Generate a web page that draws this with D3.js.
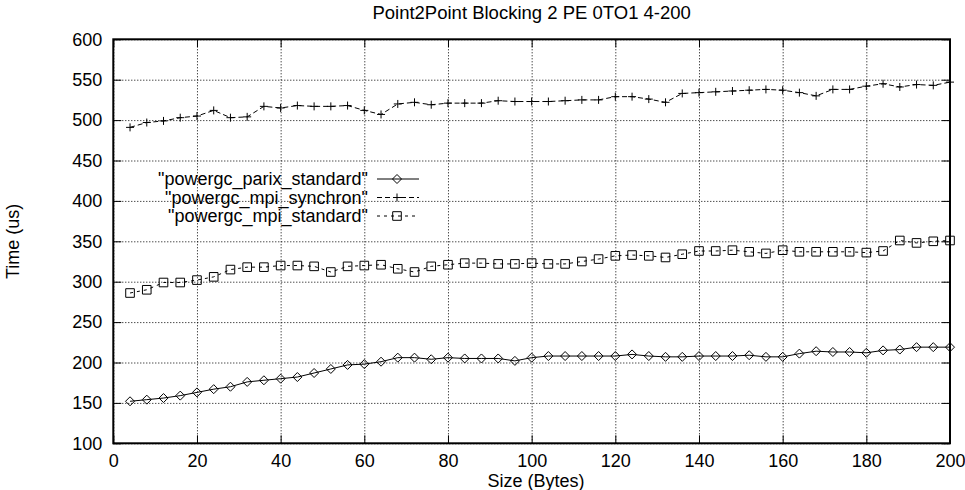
<!DOCTYPE html>
<html>
<head>
<meta charset="utf-8">
<script src="https://cdn.jsdelivr.net/npm/d3@7"></script>
<style>
  body { margin: 0; background: #fff; }
  svg { display: block; font-family: "Liberation Sans", Arial, Helvetica, sans-serif; }
</style>
</head>
<body>
<div id="chart"></div>
<script>
// message sizes (bytes)
const sizes = [4, 8, 12, 16, 20, 24, 28, 32, 36, 40, 44, 48, 52, 56, 60, 64, 68, 72, 76, 80,
               84, 88, 92, 96, 100, 104, 108, 112, 116, 120, 124, 128, 132, 136, 140, 144, 148, 152, 156, 160,
               164, 168, 172, 176, 180, 184, 188, 192, 196, 200];

const parixStandard = [152, 154, 156, 159, 163, 167, 170, 176, 178, 180, 182, 187, 192, 197, 198, 201, 206, 206, 204, 206,
                       205, 205, 205, 202, 206, 208, 208, 208, 208, 208, 210, 208, 207, 207, 208, 208, 208, 209, 207, 207,
                       211, 214, 213, 213, 212, 215, 216, 219, 219, 219];

const mpiSynchron = [491, 497, 499, 503, 505, 512, 503, 504, 517, 515, 518, 517, 517, 518, 512, 507, 520, 522, 519, 521,
                     521, 521, 524, 523, 523, 523, 524, 525, 525, 529, 529, 526, 522, 533, 534, 535, 536, 537, 538, 537,
                     534, 530, 538, 538, 542, 545, 541, 544, 543, 547];

const mpiStandard = [286, 290, 299, 299, 302, 306, 315, 318, 318, 320, 320, 319, 312, 319, 320, 321, 316, 312, 319, 321,
                     323, 323, 322, 322, 323, 322, 322, 325, 328, 332, 333, 332, 330, 334, 338, 338, 339, 337, 335, 339,
                     337, 337, 337, 337, 336, 338, 351, 348, 350, 351];

const seriesNames = ['"powergc_parix_standard"', '"powergc_mpi_synchron"', '"powergc_mpi_standard"'];
const xTicks = d3.range(0, 201, 20);
const yTicks = d3.range(100, 601, 50);

const width = 965, height = 490;
const margin = {top: 39.3, right: 15, bottom: 46.7, left: 113.3};
const w = width - margin.left - margin.right;
const h = height - margin.top - margin.bottom;

const svg = d3.select("#chart").append("svg")
    .attr("width", width)
    .attr("height", height);

const g = svg.append("g").attr("transform", `translate(${margin.left},${margin.top})`);

const x = d3.scaleLinear().domain([0, 200]).range([0, w]);
const y = d3.scaleLinear().domain([100, 600]).range([h, 0]);

// dotted grid
g.append("g")
    .attr("transform", `translate(0,${h})`)
    .call(d3.axisBottom(x).tickValues(xTicks).tickSize(-h).tickFormat(""))
    .call(a => a.select(".domain").remove())
    .selectAll("line").attr("stroke", "#000").attr("stroke-width", 1).attr("stroke-dasharray", "1,2");
g.append("g")
    .call(d3.axisLeft(y).tickValues(yTicks).tickSize(-w).tickFormat(""))
    .call(a => a.select(".domain").remove())
    .selectAll("line").attr("stroke", "#000").attr("stroke-width", 1).attr("stroke-dasharray", "1,2");

// inward ticks on all four sides, labels on bottom/left
function styleAxis(sel) {
    sel.select(".domain").remove();
    sel.selectAll("line").attr("stroke", "#000").attr("stroke-width", 1);
    sel.selectAll("text").attr("fill", "#000").attr("font-size", "18px")
        .attr("font-family", '"Liberation Sans", Arial, sans-serif');
}
g.append("g").attr("transform", `translate(0,${h})`)
    .call(d3.axisBottom(x).tickValues(xTicks).tickSize(-8).tickPadding(11).tickFormat(d3.format("d")))
    .call(styleAxis);
g.append("g")
    .call(d3.axisTop(x).tickValues(xTicks).tickSize(-8).tickFormat(""))
    .call(styleAxis);
g.append("g")
    .call(d3.axisLeft(y).tickValues(yTicks).tickSize(-8).tickPadding(11).tickFormat(d3.format("d")))
    .call(styleAxis);
g.append("g").attr("transform", `translate(${w},0)`)
    .call(d3.axisRight(y).tickValues(yTicks).tickSize(-8).tickFormat(""))
    .call(styleAxis);

g.append("rect")
    .attr("width", w).attr("height", h)
    .attr("fill", "none").attr("stroke", "#000").attr("stroke-width", 2);

// marker shapes
const diamond = (s) => `M0,${-s}L${s},0L0,${s}L${-s},0Z`;
const plus = (s) => `M${-s},0H${s}M0,${-s}V${s}`;
const square = (s) => `M${-s},${-s}H${s}V${s}H${-s}Z`;

const series = [
    {name: seriesNames[0], values: parixStandard, dash: null, marker: diamond(4.5)},
    {name: seriesNames[1], values: mpiSynchron, dash: "5,3", marker: plus(4)},
    {name: seriesNames[2], values: mpiStandard, dash: "3,4", marker: square(4.3)}
];

const line = d3.line().x((d, i) => x(sizes[i])).y(d => y(d));

series.forEach(s => {
    g.append("path")
        .datum(s.values)
        .attr("d", line)
        .attr("fill", "none")
        .attr("stroke", "#000")
        .attr("stroke-width", 1)
        .attr("stroke-dasharray", s.dash);
    g.selectAll(null)
        .data(s.values)
        .join("path")
        .attr("transform", (d, i) => `translate(${x(sizes[i])},${y(d)})`)
        .attr("d", s.marker)
        .attr("fill", "none")
        .attr("stroke", "#000")
        .attr("stroke-width", 1);
});

// key
const key = svg.append("g");
series.forEach((s, i) => {
    const ky = 179 + i * 18.5;
    key.append("text")
        .attr("x", 368).attr("y", ky).attr("dy", "0.35em")
        .attr("text-anchor", "end")
        .attr("font-size", "18px")
        .text(s.name);
    key.append("line")
        .attr("x1", 377).attr("x2", 419).attr("y1", ky).attr("y2", ky)
        .attr("stroke", "#000").attr("stroke-width", 1)
        .attr("stroke-dasharray", s.dash);
    key.append("path")
        .attr("transform", `translate(397,${ky})`)
        .attr("d", s.marker)
        .attr("fill", "none").attr("stroke", "#000").attr("stroke-width", 1);
});

// titles
svg.append("text")
    .attr("x", margin.left + w / 2).attr("y", 19)
    .attr("text-anchor", "middle").attr("font-size", "18.5px")
    .text("Point2Point Blocking 2 PE 0TO1 4-200");
svg.append("text")
    .attr("x", 536).attr("y", 487)
    .attr("text-anchor", "middle").attr("font-size", "18px")
    .text("Size (Bytes)");
svg.append("text")
    .attr("transform", `translate(19,${margin.top + h / 2}) rotate(-90)`)
    .attr("text-anchor", "middle").attr("font-size", "18px")
    .text("Time (us)");
</script>
</body>
</html>
